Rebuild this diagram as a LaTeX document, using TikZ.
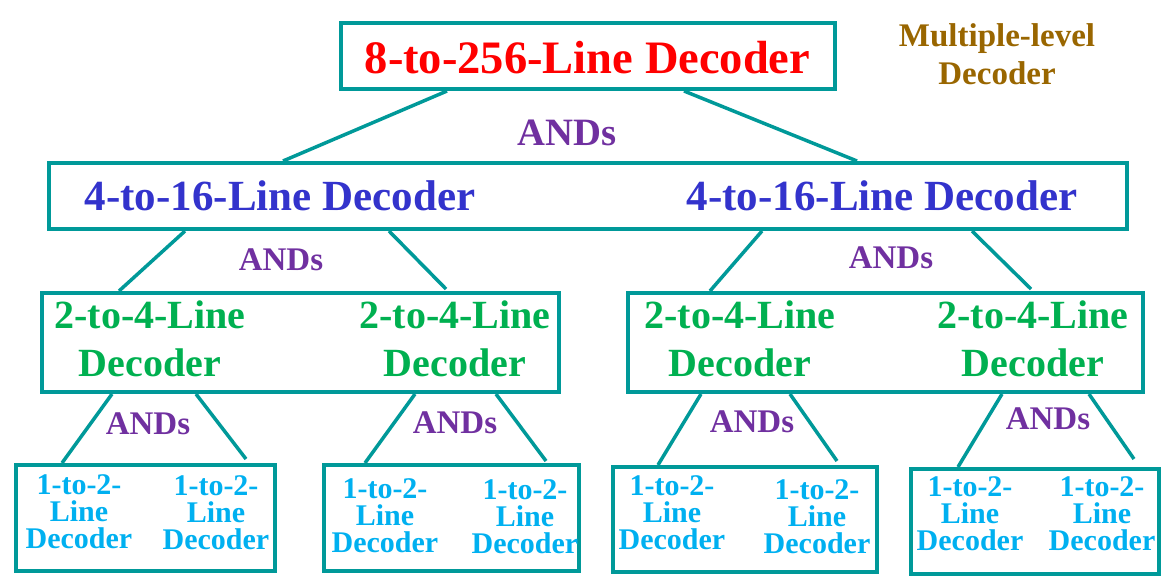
\documentclass[tikz,border=0pt]{standalone}
\usepackage{fontspec}
\setmainfont{Liberation Serif}
\definecolor{tealc}{HTML}{009999}
\definecolor{redc}{HTML}{FF0000}
\definecolor{bluec}{HTML}{3333CC}
\definecolor{greenc}{HTML}{00B050}
\definecolor{cyanc}{HTML}{00B0F0}
\definecolor{purplec}{HTML}{7030A0}
\definecolor{brownc}{HTML}{996600}
\tikzset{
  box/.style={draw=tealc, line width=4pt, inner sep=0pt, fill=none},
  conn/.style={draw=tealc, line width=3.5pt},
  txt/.style={inner sep=0pt, outer sep=0pt, anchor=base, align=center, font=\bfseries},
  topt/.style={txt, text=redc, font=\fontsize{46.5}{50}\selectfont\bfseries},
  lvtwo/.style={txt, text=bluec, font=\fontsize{43}{46}\selectfont\bfseries},
  lvthree/.style={txt, text=greenc, font=\fontsize{40}{48}\selectfont\bfseries},
  lvfour/.style={txt, text=cyanc, font=\fontsize{30}{27}\selectfont\bfseries},
  andbig/.style={txt, text=purplec, font=\fontsize{38.7}{40}\selectfont\bfseries},
  ands/.style={txt, text=purplec, font=\fontsize{33}{36}\selectfont\bfseries},
  notet/.style={txt, text=brownc, font=\fontsize{33}{38}\selectfont\bfseries},
}
\begin{document}
\begin{tikzpicture}[x=1pt,y=-1pt]
\useasboundingbox (0,0) rectangle (1171,579);
% boxes
\node[box, minimum width=494pt, minimum height=66pt] (B0) at (588,56) {};
\node[box, minimum width=1078pt, minimum height=66pt] (B1) at (588,196) {};
\node[box, minimum width=517pt, minimum height=99pt] (B2a) at (300.5,342.5) {};
\node[box, minimum width=515pt, minimum height=99pt] (B2b) at (885.5,342.5) {};
\node[box, minimum width=259pt, minimum height=106pt] (B3a) at (145.5,518) {};
\node[box, minimum width=255pt, minimum height=106pt] (B3b) at (451.5,518) {};
\node[box, minimum width=264pt, minimum height=105pt] (B3c) at (745,519.5) {};
\node[box, minimum width=248pt, minimum height=105pt] (B3d) at (1035,521.5) {};
% connector end points
\coordinate (a1) at (447,91);  \coordinate (a2) at (283,161);
\coordinate (b1) at (684,91);  \coordinate (b2) at (857,161);
\coordinate (c1) at (185,231); \coordinate (c2) at (119,291);
\coordinate (d1) at (389,231); \coordinate (d2) at (446,289);
\coordinate (e1) at (762,231); \coordinate (e2) at (710,291);
\coordinate (f1) at (972,231); \coordinate (f2) at (1031,289);
\coordinate (g1) at (112,394); \coordinate (g2) at (62,463);
\coordinate (h1) at (196,394); \coordinate (h2) at (246,459);
\coordinate (i1) at (415,394); \coordinate (i2) at (365,463);
\coordinate (j1) at (496,394); \coordinate (j2) at (546,461);
\coordinate (k1) at (701,394); \coordinate (k2) at (658,465);
\coordinate (l1) at (790,394); \coordinate (l2) at (837,461);
\coordinate (m1) at (1002,394); \coordinate (m2) at (958,467);
\coordinate (n1) at (1089,394); \coordinate (n2) at (1134,459);
\foreach \p in {a,b,c,d,e,f,g,h,i,j,k,l,m,n} \draw[conn] (\p1) -- (\p2);
% texts (base anchor = baseline of the last line)
\node[topt] (T0) at (587.5,73) {8-to-256-Line Decoder};
\node[notet] (N0) at (997,84) {Multiple-level\\Decoder};
\node[andbig] (A0) at (567,145) {ANDs};
\node[lvtwo] (T1a) at (280,210) {4-to-16-Line Decoder};
\node[lvtwo] (T1b) at (882,210) {4-to-16-Line Decoder};
\node[ands] (A1a) at (281,270) {ANDs};
\node[ands] (A1b) at (891,268) {ANDs};
\node[lvthree] (T2a) at (150,376) {2-to-4-Line\\Decoder};
\node[lvthree] (T2b) at (455,376) {2-to-4-Line\\Decoder};
\node[lvthree] (T2c) at (740,376) {2-to-4-Line\\Decoder};
\node[lvthree] (T2d) at (1033,376) {2-to-4-Line\\Decoder};
\node[ands] (A2a) at (148,434) {ANDs};
\node[ands] (A2b) at (455,433) {ANDs};
\node[ands] (A2c) at (752,432) {ANDs};
\node[ands] (A2d) at (1048,429) {ANDs};
\node[lvfour] (T3a) at (79,548) {1-to-2-\\Line\\Decoder};
\node[lvfour] (T3b) at (216,549) {1-to-2-\\Line\\Decoder};
\node[lvfour] (T3c) at (385,552) {1-to-2-\\Line\\Decoder};
\node[lvfour] (T3d) at (525,553) {1-to-2-\\Line\\Decoder};
\node[lvfour] (T3e) at (672,549) {1-to-2-\\Line\\Decoder};
\node[lvfour] (T3f) at (817,553) {1-to-2-\\Line\\Decoder};
\node[lvfour] (T3g) at (970,550) {1-to-2-\\Line\\Decoder};
\node[lvfour] (T3h) at (1102,550) {1-to-2-\\Line\\Decoder};
\end{tikzpicture}
\end{document}
